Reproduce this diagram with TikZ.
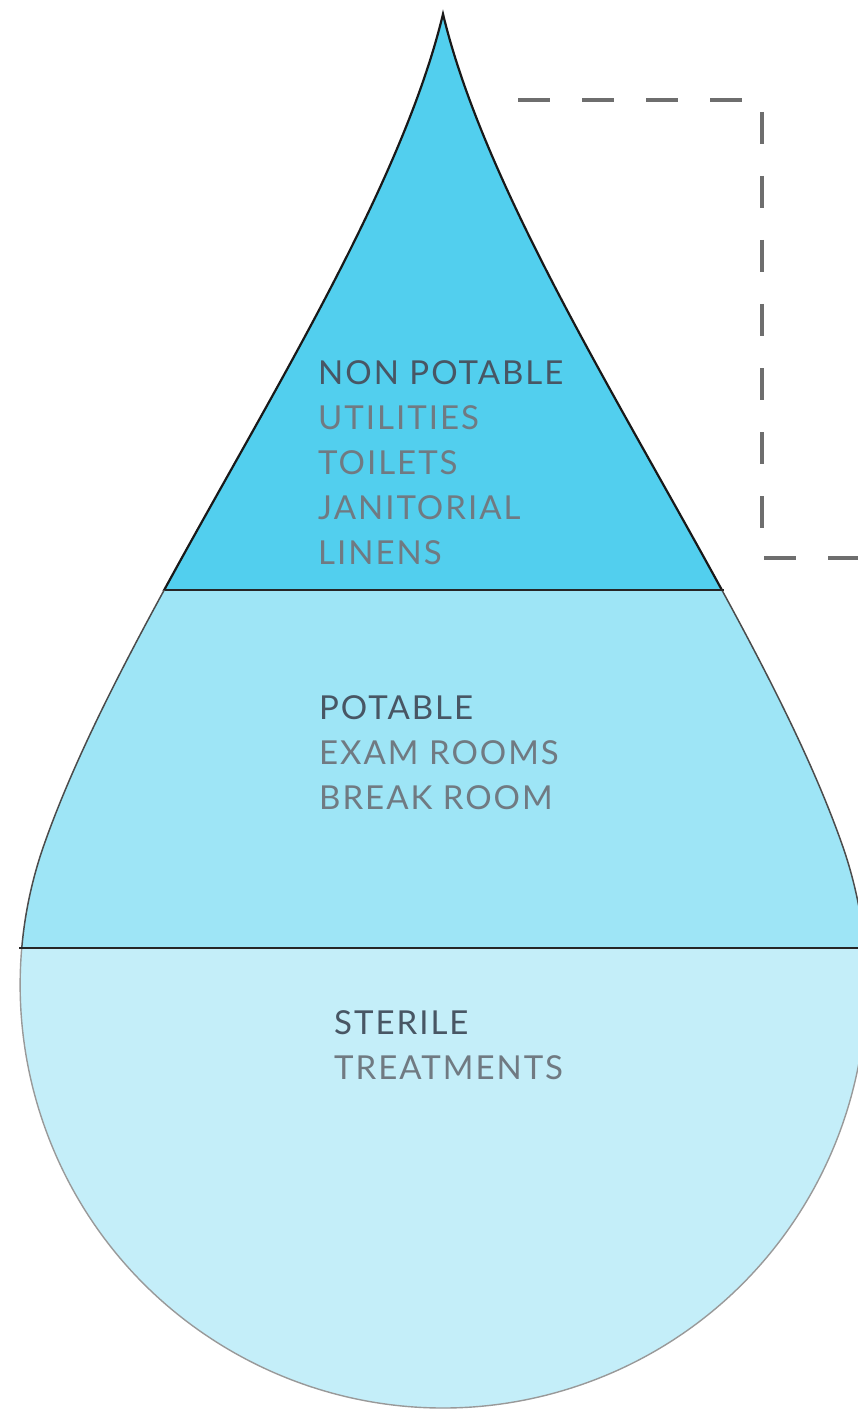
\documentclass[tikz,border=0pt]{standalone}
\usepackage{fontspec}
\setmainfont{Lato}
\newfontfamily\lblfont[LetterSpace=6.0]{Lato}
\definecolor{topc}{RGB}{82,207,238}
\definecolor{midc}{RGB}{158,229,246}
\definecolor{botc}{RGB}{196,238,249}
\definecolor{headc}{RGB}{72,86,100}
\definecolor{subc}{RGB}{112,122,130}
\definecolor{dashc}{RGB}{110,110,110}
\tikzset{
  lbl/.style={anchor=north west, inner sep=0pt, align=left, text=subc,
    font=\lblfont\fontsize{33}{45}\selectfont},
  bandline/.style={line width=2.2pt, draw=black!85},
  guide/.style={line width=4.5pt, draw=dashc, dash pattern=on 32pt off 32pt}
}
\def\drop{(443,14) .. controls (503,264) and (758,600) .. (844,850)
  arc[start angle=18.6, end angle=-198.6, radius=423pt]
  .. controls (128,600) and (383,264) .. (443,14) -- cycle}
\begin{document}
\begin{tikzpicture}[x=1pt,y=-1pt]
\useasboundingbox (0,0) rectangle (858,1412);
\clip (0,0) rectangle (858,1412);
\fill[white] (0,0) rectangle (858,1412);
% fills
\begin{scope}
  \clip \drop;
  \fill[topc] (0,0) rectangle (858,590);
  \fill[midc] (0,590) rectangle (858,948);
  \fill[botc] (0,948) rectangle (858,1412);
\end{scope}
% outlines
\begin{scope}
  \clip (0,0) rectangle (858,590);
  \draw[line width=2.2pt, black!90] \drop;
\end{scope}
\begin{scope}
  \clip (0,590) rectangle (858,948);
  \draw[line width=1.5pt, black!70] \drop;
\end{scope}
\begin{scope}
  \clip (0,948) rectangle (858,1412);
  \draw[line width=1.4pt, black!40] \drop;
\end{scope}
% band separators
\coordinate (s1l) at (165,590);
\coordinate (s1r) at (724,590);
\coordinate (s2l) at (19,948);
\coordinate (s2r) at (858,948);
\draw[bandline] (s1l) -- (s1r);
\draw[bandline] (s2l) -- (s2r);
% dashed guide
\coordinate (g0) at (518,100);
\coordinate (g1) at (762,100);
\coordinate (g2) at (762,558);
\coordinate (g3) at (870,558);
\draw[guide] (g0) -- (g1) -- (g2) -- (g3);
% labels
\node[lbl] (nonpot) at (318,360) {{\color{headc}NON POTABLE}\\UTILITIES\\TOILETS\\JANITORIAL\\LINENS};
\node[lbl] (pot) at (319,695) {{\color{headc}POTABLE}\\EXAM ROOMS\\BREAK ROOM};
\node[lbl] (ster) at (334,1010) {{\color{headc}STERILE}\\TREATMENTS};
\end{tikzpicture}
\end{document}
